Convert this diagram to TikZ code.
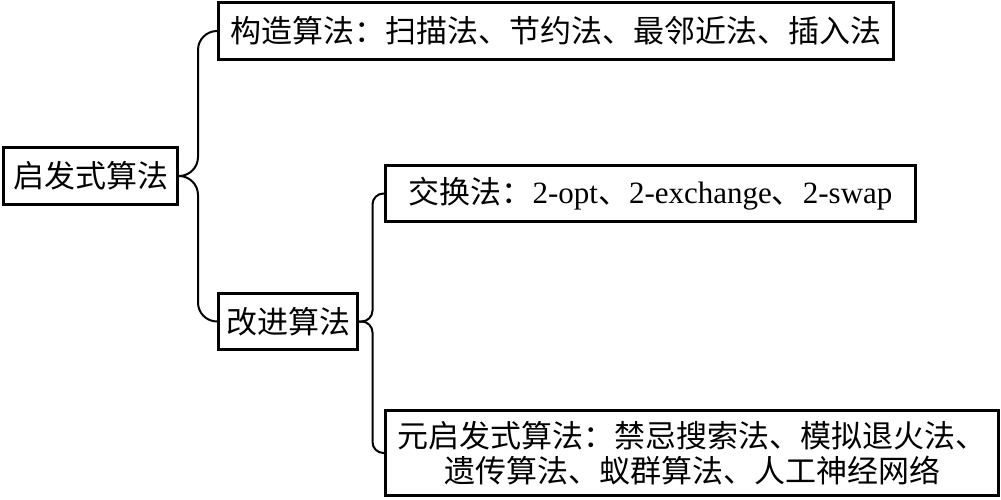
\documentclass[tikz,border=0pt]{standalone}
\usepackage{fontspec}
\setmainfont{Liberation Serif}
\newfontfamily\cjk{Noto Sans CJK SC}
\begin{document}
\begin{tikzpicture}[x=1pt,y=-1pt,
  box/.style={draw, line width=3pt, inner sep=0pt, font=\fontsize{31}{35}\selectfont, align=center},
  brace/.style={draw, line width=2pt}]
\useasboundingbox (0,0) rectangle (1001,499);
\node[box, minimum width=174pt, minimum height=57pt] (root) at (90.5,176) {\cjk 启发式算法};
\node[box, minimum width=675pt, minimum height=57pt] (A) at (556,31) {\cjk 构造算法：扫描法、节约法、最邻近法、插入法};
\node[box, minimum width=139pt, minimum height=56pt] (B) at (288,321.5) {\cjk 改进算法};
\node[box, minimum width=530pt, minimum height=56pt] (C) at (650.5,193.5) {{\cjk 交换法：}2-opt{\cjk 、}2-exchange{\cjk 、}2-swap};
\node[box, minimum width=613pt, minimum height=85pt] (D) at (692,453) {\cjk 元启发式算法：禁忌搜索法、模拟退火法、\\\cjk 遗传算法、蚁群算法、人工神经网络};
\coordinate (b1) at (198,176);
\coordinate (b2) at (372.5,322);
\draw[brace, rounded corners=19pt] (A.west) -- (b1 |- A.west) -- (b1 |- root.east) -- (root.east);
\draw[brace, rounded corners=19pt] (B.west) -- (b1 |- B.west) -- (b1 |- root.east) -- (root.east);
\draw[brace, rounded corners=11pt] (C.west) -- (b2 |- C.west) -- (b2 |- B.east) -- (B.east);
\draw[brace, rounded corners=11pt] (D.west) -- (b2 |- D.west) -- (b2 |- B.east) -- (B.east);
\end{tikzpicture}
\end{document}
